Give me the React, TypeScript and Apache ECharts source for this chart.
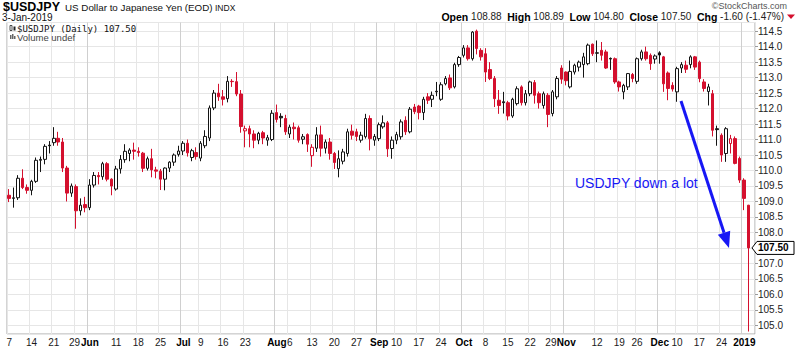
import React, { useEffect, useRef } from 'react';
import * as echarts from 'echarts';

const FONT = '"Liberation Sans", Arial, Helvetica, sans-serif';
const UP = '#141414';
const DOWN = '#d4102e';
const BLUE = '#1717f5';

// Trading days (month -> days of month)
const TRADING_DAYS: [string, number[]][] = [
  ['2018-05', [7, 8, 9, 10, 11, 14, 15, 16, 17, 18, 21, 22, 23, 24, 25, 29, 30, 31]],
  ['2018-06', [1, 4, 5, 6, 7, 8, 11, 12, 13, 14, 15, 18, 19, 20, 21, 22, 25, 26, 27, 28, 29]],
  ['2018-07', [2, 3, 5, 6, 9, 10, 11, 12, 13, 16, 17, 18, 19, 20, 23, 24, 25, 26, 27, 30, 31]],
  ['2018-08', [1, 2, 3, 6, 7, 8, 9, 10, 13, 14, 15, 16, 17, 20, 21, 22, 23, 24, 27, 28, 29, 30, 31]],
  ['2018-09', [4, 5, 6, 7, 10, 11, 12, 13, 14, 17, 18, 19, 20, 21, 24, 25, 26, 27, 28]],
  ['2018-10', [1, 2, 3, 4, 5, 8, 9, 10, 11, 12, 15, 16, 17, 18, 19, 22, 23, 24, 25, 26, 29, 30, 31]],
  ['2018-11', [1, 2, 5, 6, 7, 8, 9, 12, 13, 14, 15, 16, 19, 20, 21, 23, 26, 27, 28, 29, 30]],
  ['2018-12', [3, 4, 6, 7, 10, 11, 12, 13, 14, 17, 18, 19, 20, 21, 24, 26, 27, 28, 31]],
  ['2019-01', [2, 3]],
];
const DATES: string[] = TRADING_DAYS.flatMap(([m, days]) =>
  days.map((d) => `${m}-${d < 10 ? '0' + d : d}`)
);

const OPEN = [
  109.20, 109.10, 109.12, 109.75, 109.45, 109.36, 109.65, 110.33, 110.36, 110.82, 110.90, 111.04, 110.92, 110.08, 109.27, 109.48, 108.70, 108.90,
  108.80, 109.53, 109.84, 109.80, 110.22, 109.72, 109.40, 110.05, 110.35, 110.55, 110.66, 110.62, 110.56, 110.07, 110.38, 110.02, 109.98, 109.72, 110.08, 110.27, 110.52,
  110.63, 110.88, 110.42, 110.58, 110.40, 110.80, 111.05, 112.02, 112.50, 112.38, 112.32, 112.88, 112.87, 112.47, 111.28, 111.35, 111.18, 110.98, 111.22, 110.98, 111.00,
  111.87, 111.75, 111.68, 111.18, 111.40, 111.38, 111.01, 111.16, 110.48, 110.72, 111.15, 110.72, 110.92, 110.55, 110.06, 110.30, 110.55, 111.27, 111.25, 110.98, 111.09, 111.68, 110.98,
  111.03, 111.41, 111.54, 110.71, 110.98, 111.09, 111.62, 111.25, 112.05, 112.08, 111.87, 112.38, 112.30, 112.56, 112.30, 112.80, 112.99, 112.70, 113.42,
  113.72, 113.96, 113.61, 114.50, 113.88, 113.77, 113.26, 112.97, 112.27, 112.22, 112.19, 111.76, 112.16, 112.70, 112.19, 112.48, 112.84, 112.48, 112.10, 112.43, 111.84, 112.38, 113.31,
  113.18, 112.70, 113.18, 113.34, 113.42, 113.45, 114.08, 113.80, 113.88, 113.83, 113.62, 113.61, 112.86, 112.54, 112.70, 113.10, 112.88, 113.61, 113.83, 113.72, 113.60,
  113.80, 113.67, 113.15, 112.75, 112.54, 113.31, 113.40, 113.42, 113.67, 113.50, 112.86, 112.55, 112.48, 111.35, 111.14, 110.55, 110.87, 111.03, 110.39,
  109.69, 108.88,
];
const HIGH = [
  109.40, 109.45, 109.85, 110.04, 109.55, 109.70, 110.42, 110.45, 110.85, 110.95, 111.40, 111.25, 111.05, 110.15, 109.58, 109.55, 109.10, 109.15,
  109.72, 109.95, 109.95, 110.28, 110.27, 109.75, 110.15, 110.50, 110.85, 110.72, 110.90, 110.75, 110.60, 110.45, 110.70, 110.12, 110.05, 110.10, 110.30, 110.55, 110.80,
  110.95, 111.00, 110.70, 110.75, 110.95, 111.30, 112.10, 112.60, 112.80, 112.60, 113.05, 112.95, 113.18, 112.60, 111.45, 111.45, 111.30, 111.25, 111.28, 111.15, 111.95,
  112.13, 111.85, 111.80, 111.48, 111.55, 111.45, 111.18, 111.20, 110.85, 111.40, 111.45, 111.00, 111.05, 110.60, 110.65, 110.70, 111.35, 111.48, 111.35, 111.25, 111.83, 111.78, 111.18,
  111.55, 111.78, 111.60, 111.10, 111.25, 111.65, 111.75, 112.05, 112.15, 112.12, 112.38, 112.50, 112.55, 112.86, 112.85, 113.05, 113.10, 113.48, 113.70,
  114.05, 114.05, 114.50, 114.55, 113.95, 113.95, 113.50, 113.05, 112.60, 112.54, 112.25, 112.35, 112.72, 112.75, 112.60, 112.90, 112.92, 112.55, 112.55, 112.50, 112.60, 113.05, 113.40,
  113.20, 113.55, 113.45, 113.55, 113.80, 114.10, 114.10, 114.20, 114.15, 113.90, 113.65, 113.65, 112.90, 112.80, 113.15, 113.15, 113.65, 113.90, 114.00, 113.78, 113.75,
  113.85, 113.70, 113.20, 112.85, 113.35, 113.50, 113.55, 113.72, 113.70, 113.55, 112.95, 112.80, 112.60, 111.45, 111.20, 111.40, 111.15, 111.10, 110.45,
  109.75, 108.89,
];
const LOW = [
  108.98, 108.80, 109.05, 109.40, 109.25, 109.20, 109.60, 109.95, 110.20, 110.55, 110.80, 110.80, 109.95, 109.00, 109.15, 108.12, 108.55, 108.65,
  108.72, 109.45, 109.55, 109.70, 109.65, 109.20, 109.35, 109.90, 110.25, 110.30, 110.35, 110.45, 109.95, 110.00, 109.78, 109.75, 109.37, 109.36, 109.95, 110.15, 110.45,
  110.50, 110.45, 110.30, 110.35, 110.30, 110.72, 110.95, 111.95, 112.25, 112.10, 112.20, 112.70, 112.40, 111.22, 110.75, 110.75, 110.72, 110.85, 110.85, 110.80, 110.95,
  111.55, 111.40, 111.15, 111.05, 111.00, 110.90, 110.85, 110.60, 110.12, 110.60, 110.45, 110.55, 110.35, 110.05, 109.78, 110.20, 110.45, 111.00, 110.95, 110.90, 111.03, 110.65, 110.80,
  110.95, 111.35, 110.44, 110.38, 110.85, 111.00, 111.15, 111.20, 111.82, 111.65, 111.63, 112.15, 112.05, 112.40, 112.25, 112.75, 112.60, 112.65, 113.35,
  113.65, 113.55, 113.55, 113.75, 113.55, 112.86, 112.92, 112.05, 111.83, 111.84, 111.62, 111.70, 112.10, 112.10, 112.10, 112.40, 112.16, 112.00, 112.00, 111.40, 111.75, 112.30, 112.80,
  112.75, 112.65, 113.10, 113.20, 113.00, 113.40, 113.70, 113.50, 113.55, 113.28, 113.25, 112.80, 112.55, 112.30, 112.60, 112.85, 112.80, 113.55, 113.55, 113.25, 113.45,
  113.45, 112.54, 112.27, 112.55, 112.22, 113.15, 113.15, 113.30, 113.25, 112.85, 112.55, 112.10, 111.10, 110.80, 110.28, 110.28, 110.55, 110.20, 109.60,
  108.72, 104.80,
];
const CLOSE = [
  109.10, 109.12, 109.75, 109.45, 109.36, 109.65, 110.33, 110.36, 110.78, 110.80, 111.04, 110.92, 110.08, 109.27, 109.50, 108.70, 108.88, 108.80,
  109.53, 109.84, 109.80, 110.22, 109.72, 109.50, 110.05, 110.36, 110.62, 110.66, 110.62, 110.58, 110.07, 110.38, 110.02, 109.98, 109.72, 110.08, 110.27, 110.50, 110.63,
  110.88, 110.57, 110.64, 110.45, 110.88, 111.10, 112.02, 112.50, 112.38, 112.30, 112.88, 112.87, 112.47, 111.42, 111.35, 111.18, 110.98, 111.20, 111.05, 111.06, 111.85,
  111.65, 111.70, 111.25, 111.40, 111.35, 110.98, 111.09, 110.85, 110.75, 111.15, 110.72, 110.92, 110.55, 110.26, 110.38, 110.60, 111.25, 111.14, 111.10, 111.14, 111.68, 111.03, 111.10,
  111.48, 111.54, 110.70, 110.98, 111.16, 111.57, 111.25, 111.98, 111.90, 111.87, 112.30, 112.27, 112.43, 112.54, 112.77, 112.97, 112.67, 113.42, 113.65,
  113.96, 113.61, 114.47, 113.94, 113.67, 113.18, 112.97, 112.32, 112.10, 112.19, 111.76, 112.30, 112.64, 112.19, 112.48, 112.86, 112.43, 112.19, 112.48, 111.81, 112.54, 112.97, 112.95,
  112.90, 113.20, 113.40, 113.50, 113.67, 114.05, 113.77, 113.79, 113.72, 113.31, 113.60, 112.86, 112.70, 112.75, 113.13, 112.97, 113.61, 113.83, 113.61, 113.45, 113.70,
  113.73, 112.80, 112.65, 112.63, 113.29, 113.42, 113.27, 113.67, 113.34, 112.97, 112.65, 112.70, 111.30, 111.32, 110.50, 111.35, 111.03, 110.23, 109.69,
  109.10, 107.50,
];

const TICK_DATES = [
  '2018-05-07', '2018-05-14', '2018-05-21', '2018-05-29', '2018-06-01', '2018-06-11', '2018-06-18', '2018-06-25',
  '2018-07-02', '2018-07-09', '2018-07-16', '2018-07-23', '2018-08-01', '2018-08-06', '2018-08-13', '2018-08-20',
  '2018-08-27', '2018-09-04', '2018-09-10', '2018-09-17', '2018-09-24', '2018-10-01', '2018-10-08', '2018-10-15',
  '2018-10-22', '2018-10-29', '2018-11-01', '2018-11-12', '2018-11-19', '2018-11-26', '2018-12-03', '2018-12-10',
  '2018-12-17', '2018-12-24', '2019-01-02',
];
const TICK_TEXTS = [
  '7', '14', '21', '29', 'Jun', '11', '18', '25', 'Jul', '9', '16', '23', 'Aug', '6', '13', '20', '27', 'Sep', '10',
  '17', '24', 'Oct', '8', '15', '22', '29', 'Nov', '12', '19', '26', 'Dec', '10', '17', '24', '2019',
];

const Y_MIN = 104.72;
const Y_MAX = 114.78;

export default function App() {
  const ref = useRef<HTMLDivElement>(null);

  useEffect(() => {
    document.body.style.margin = '0';
    const el = ref.current;
    if (!el) return;
    const chart = echarts.init(el, null, { renderer: 'svg' });

    const n = CLOSE.length;
    const lastClose = CLOSE[n - 1];
    const prevClose = CLOSE[n - 2];
    const chg = lastClose - prevClose;
    const pct = (chg / prevClose) * 100;

    const isBold = (t: string) => isNaN(Number(t)) || t.length === 4;
    const tickMap = new Map<number, string>();
    const tickIdx: number[] = [];
    TICK_DATES.forEach((d, k) => {
      const idx = DATES.indexOf(d);
      if (idx >= 0) {
        tickMap.set(idx, TICK_TEXTS[k]);
        tickIdx.push(idx);
      }
    });
    // day labels that sit right before a month label get nudged left a little
    const tightBefore = new Set<number>();
    tickIdx.forEach((idx, k) => {
      const next = tickIdx[k + 1];
      if (next !== undefined && next - idx <= 3 && isBold(tickMap.get(next) || '')) tightBefore.add(idx);
    });
    const splitColors = TICK_DATES.map((_, k) => (isBold(TICK_TEXTS[k]) ? '#cfcfcf' : '#e6e6e6'));
    splitColors.push('#e6e6e6');

    const candleData = CLOSE.map((c, i) => {
      const o = OPEN[i];
      const prev = i > 0 ? CLOSE[i - 1] : o;
      const col = c >= prev ? UP : DOWN;
      const fill = c > o ? '#ffffff' : col;
      return {
        value: [o, c, LOW[i], HIGH[i]],
        itemStyle: { color: fill, color0: fill, borderColor: col, borderColor0: col, borderWidth: 1 },
      };
    });

    const option: any = {
      animation: false,
      backgroundColor: '#ffffff',
      textStyle: { fontFamily: FONT },
      grid: {
        left: 7,
        right: 45,
        top: 22.5,
        bottom: 17,
        show: true,
        borderColor: '#a9a9a9',
        borderWidth: 1,
        containLabel: false,
        outerBoundsMode: 'none',
      },
      xAxis: {
        type: 'category',
        data: DATES,
        max: DATES.length,
        boundaryGap: true,
        axisLine: { show: false },
        axisTick: { show: false },
        axisLabel: {
          interval: (idx: number) => tickMap.has(idx),
          formatter: (_v: string, idx: number) => {
            const t = tickMap.get(idx) || '';
            if (isBold(t)) return `{b|${t}}`;
            if (tightBefore.has(idx)) return `{t|${t}}`;
            return t;
          },
          fontSize: 10,
          fontFamily: FONT,
          color: '#1a1a1a',
          margin: 3,
          rich: {
            b: { fontWeight: 'bold', fontSize: 10, fontFamily: FONT, color: '#000', padding: [0, 0, 0, 1] },
            t: { fontSize: 10, fontFamily: FONT, color: '#1a1a1a', padding: [0, 3, 0, 0] },
          },
        },
        splitLine: {
          show: true,
          interval: (idx: number) => tickMap.has(idx),
          lineStyle: { color: splitColors, width: 1 },
        },
      },
      yAxis: {
        type: 'value',
        position: 'right',
        min: Y_MIN,
        max: Y_MAX,
        splitNumber: 20,
        minInterval: 0.5,
        maxInterval: 0.5,
        scale: true,
        axisLine: { show: false },
        axisTick: { show: true, length: 3, lineStyle: { color: '#9a9a9a' } },
        axisLabel: {
          showMinLabel: false,
          showMaxLabel: false,
          // the last-price marker takes the place of the tick label at the close value
          formatter: (v: number) => (Math.abs(v - lastClose) < 1e-6 ? '' : v.toFixed(1)),
          fontSize: 10,
          fontFamily: FONT,
          color: '#222',
          margin: 3,
        },
        splitLine: { show: true, lineStyle: { color: '#e6e6e6', width: 1 } },
      },
      series: [
        {
          type: 'candlestick',
          data: candleData,
          barWidth: 3,
        },
      ],
    };

    chart.setOption(option);

    const yLast = chart.convertToPixel({ yAxisIndex: 0 }, lastClose) as number;

    const headerRich =
      `{b|Open} ${OPEN[n - 1].toFixed(2)}  {b|High} ${HIGH[n - 1].toFixed(2)}  {b|Low} ${LOW[n - 1].toFixed(2)}  ` +
      `{b|Close} ${lastClose.toFixed(2)}  {b|Chg} ${chg.toFixed(2)} (${pct.toFixed(2)}%)`;

    const txt = (x: number, y: number, text: string, extra: any = {}) => ({
      type: 'text',
      x,
      y,
      z: 100,
      style: {
        text,
        fontFamily: FONT,
        fontSize: 10,
        fill: '#111',
        align: 'left',
        verticalAlign: 'middle',
        textAlign: 'left',
        textVerticalAlign: 'middle',
        ...extra,
      },
    });

    // Arrow geometry (annotation)
    const ax1 = 681, ay1 = 101, tipX = 729, tipY = 248;
    const dx = tipX - ax1, dy = tipY - ay1;
    const len = Math.sqrt(dx * dx + dy * dy);
    const ux = dx / len, uy = dy / len;
    const headLen = 16, headHalf = 6.5;
    const bx = tipX - ux * headLen, by = tipY - uy * headLen;

    chart.setOption({
      graphic: [
        txt(3, 6.5, '$USDJPY', { fontWeight: 'bold', fontSize: 12.5, fill: '#000' }),
        txt(65, 7, 'US Dollar to Japanese Yen (EOD)', { fontSize: 9.8, fill: '#111' }),
        txt(215, 7.5, 'INDX', { fontSize: 8.5, fill: '#111' }),
        txt(2, 17.5, '3-Jan-2019', { fontSize: 10, fill: '#111' }),
        txt(787, 5.5, '\u00A9StockCharts.com', { fontSize: 9, fill: '#555', align: 'right', textAlign: 'right' }),
        {
          type: 'text',
          x: 784,
          y: 16.5,
          z: 100,
          style: {
            text: headerRich,
            fontFamily: FONT,
            fontSize: 10,
            fill: '#222',
            align: 'right',
            verticalAlign: 'middle',
            textAlign: 'right',
            textVerticalAlign: 'middle',
            rich: { b: { fontWeight: 'bold', fontSize: 10.5, fontFamily: FONT, fill: '#000', color: '#000' } },
          },
        },
        {
          type: 'polygon',
          z: 100,
          shape: { points: [[787, 14.5], [795, 14.5], [791, 19]] },
          style: { fill: DOWN },
        },
        // legend icons
        { type: 'rect', z: 100, shape: { x: 10, y: 25.5, width: 2, height: 5 }, style: { fill: '#fff', stroke: '#222', lineWidth: 0.8 } },
        { type: 'rect', z: 100, shape: { x: 13.5, y: 26.5, width: 2, height: 4 }, style: { fill: '#222' } },
        txt(17, 28.5, `$USDJPY (Daily) ${lastClose.toFixed(2)}`, {
          fontFamily: '"DejaVu Sans Mono", monospace',
          fontSize: 9,
          fill: '#111',
        }),
        { type: 'rect', z: 100, shape: { x: 10, y: 35, width: 1.5, height: 4 }, style: { fill: '#666' } },
        { type: 'rect', z: 100, shape: { x: 12, y: 34, width: 1.5, height: 5 }, style: { fill: '#666' } },
        { type: 'rect', z: 100, shape: { x: 14, y: 36, width: 1.5, height: 3 }, style: { fill: '#666' } },
        txt(17, 37.5, 'Volume undef', { fontSize: 9.5, fill: '#444' }),
        // last price marker
        {
          type: 'polygon',
          z: 100,
          shape: {
            points: [
              [752, yLast],
              [757, yLast - 6.5],
              [794, yLast - 6.5],
              [794, yLast + 6.5],
              [757, yLast + 6.5],
            ],
          },
          style: { fill: '#fff', stroke: '#000', lineWidth: 1 },
        },
        txt(758, yLast, lastClose.toFixed(2), { fontWeight: 'bold', fontSize: 10, fill: '#000' }),
        // annotation
        txt(575, 183, 'USDJPY down a lot', { fontSize: 14, fill: BLUE }),
        {
          type: 'line',
          z: 100,
          shape: { x1: ax1, y1: ay1, x2: bx, y2: by },
          style: { stroke: BLUE, lineWidth: 3 },
        },
        {
          type: 'polygon',
          z: 100,
          shape: {
            points: [
              [tipX, tipY],
              [bx + uy * headHalf, by - ux * headHalf],
              [bx - uy * headHalf, by + ux * headHalf],
            ],
          },
          style: { fill: BLUE },
        },
      ],
    });

    return () => chart.dispose();
  }, []);

  return (
    <div
      ref={ref}
      style={{ position: 'fixed', left: 0, top: 0, width: 800, height: 351, background: '#fff' }}
    />
  );
}
